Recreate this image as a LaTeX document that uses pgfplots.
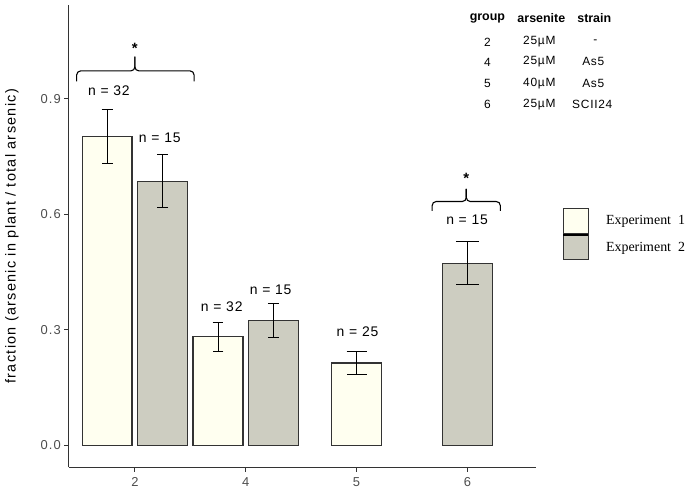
\documentclass[border=0pt]{standalone}
\usepackage{pgfplots}
\pgfplotsset{compat=1.18}
\usepackage{fontspec}
\setmainfont{Liberation Sans}
\newfontfamily\seriffont{Liberation Serif}
\newfontfamily\spacedfont{Liberation Sans}[LetterSpace=6]
\newfontfamily\widefont{Liberation Sans}[LetterSpace=9]
\definecolor{expA}{HTML}{FFFFF0}
\definecolor{expB}{HTML}{CDCDC1}
\definecolor{edge}{HTML}{333333}
\definecolor{ticklab}{HTML}{4D4D4D}
\newcommand{\annot}{\spacedfont\fontsize{14}{16}\selectfont}
\newcommand{\tabfont}{\spacedfont\fontsize{12}{14}\selectfont}
\begin{document}
\begin{tikzpicture}
\begin{axis}[
  scale only axis, width=468bp, height=463bp,
  xmin=-0.595, xmax=3.622, ymin=-0.057, ymax=1.143,
  axis lines=left, axis line style={-, edge, line width=1.1bp},
  xtick={0,1,2,3}, xticklabels={2,4,5,6},
  ytick={0,0.3,0.6,0.9}, yticklabels={0.0,0.3,0.6,0.9},
  tick align=outside, major tick length=4.5bp,
  every tick/.style={edge, line width=1.1bp},
  /pgf/number format/assume math mode=true,
  tick label style={font=\widefont\fontsize{13}{15}\selectfont, text=ticklab},
  xticklabel style={yshift=-2bp},
  every axis y label/.style={at={(axis description cs:-0.1218,0.5)}, rotate=90, anchor=center, font=\widefont\fontsize{14.5}{16}\selectfont},
  ylabel={fraction (arsenic in plant / total arsenic)},
  clip=false,
  legend image code/.code={\draw[#1, line width=1.2bp] (0bp,-12.5bp) rectangle (25bp,12.5bp);},
  legend style={at={(axis description cs:1.0556,0.5616)}, anchor=north west, draw=none, fill=none, inner sep=0pt, row sep=0pt, column sep=17bp,
    nodes={inner sep=0pt, font=\seriffont\fontsize{14}{16}\selectfont}},
  legend cell align=left,
]
\addlegendimage{fill=expA, draw=edge}
\addlegendimage{legend image code/.code={\draw[fill=expB, draw=edge, line width=1.2bp] (0bp,-12.5bp) rectangle (25bp,12.5bp); \draw[black, line width=1.6bp] (0bp,12.5bp) -- (25bp,12.5bp);}}
\legend{Experiment~~1, Experiment~~2}

% Experiment 1, groups 2 and 4
\addplot[ybar, bar width=0.45, bar shift=0pt, fill=expA, draw=edge, line width=1.2bp, forget plot,
  error bars/.cd, y dir=both, y explicit,
  error bar style={line width=1bp, black},
  error mark options={rotate=90, mark size=5.5bp, line width=1bp, black}]
  coordinates {(-0.25,0.802) +- (0,0.071) (0.75,0.282) +- (0,0.0375)};
% Experiment 2, groups 2 and 4
\addplot[ybar, bar width=0.45, bar shift=0pt, fill=expB, draw=edge, line width=1.2bp, forget plot,
  error bars/.cd, y dir=both, y explicit,
  error bar style={line width=1bp, black},
  error mark options={rotate=90, mark size=5.5bp, line width=1bp, black}]
  coordinates {(0.25,0.686) +- (0,0.068) (1.25,0.325) +- (0,0.044)};
% Experiment 1, group 5
\addplot[ybar, bar width=0.45, bar shift=0pt, fill=expA, draw=edge, line width=1.2bp, forget plot,
  error bars/.cd, y dir=both, y explicit,
  error bar style={line width=1bp, black},
  error mark options={rotate=90, mark size=10bp, line width=1bp, black}]
  coordinates {(2,0.214) +- (0,0.029)};
% Experiment 2, group 6
\addplot[ybar, bar width=0.45, bar shift=0pt, fill=expB, draw=edge, line width=1.2bp, forget plot,
  error bars/.cd, y dir=both, y explicit,
  error bar style={line width=1bp, black},
  error mark options={rotate=90, mark size=11.5bp, line width=1bp, black}]
  coordinates {(3,0.473) +- (0,0.056)};

% n labels
\node[font=\annot] at (axis cs:-0.234,0.920) {n = 32};
\node[font=\annot] at (axis cs:0.225,0.799) {n = 15};
\node[font=\annot] at (axis cs:0.784,0.361) {n = 32};
\node[font=\annot] at (axis cs:1.225,0.403) {n = 15};
\node[font=\annot] at (axis cs:2.009,0.294) {n = 25};
\node[font=\annot] at (axis cs:2.997,0.586) {n = 15};

% brackets
\draw[black, line width=1.1bp, rounded corners=4bp] (axis cs:-0.525,0.945) |- (axis cs:0,0.972) -- (axis cs:0,1.009);
\draw[black, line width=1.1bp, rounded corners=4bp] (axis cs:0.534,0.945) |- (axis cs:0,0.972) -- (axis cs:0,1.009);
\node[font=\bfseries\fontsize{15}{16}\selectfont, anchor=base] at (axis cs:0,1.017) {*};
\draw[black, line width=1.1bp, rounded corners=4bp] (axis cs:2.682,0.609) |- (axis cs:2.99,0.633) -- (axis cs:2.99,0.666);
\draw[black, line width=1.1bp, rounded corners=4bp] (axis cs:3.297,0.609) |- (axis cs:2.99,0.633) -- (axis cs:2.99,0.666);
\node[font=\bfseries\fontsize{15}{16}\selectfont, anchor=base] at (axis cs:2.99,0.680) {*};
\end{axis}

% table of conditions
\begin{scope}[every node/.style={anchor=center, inner sep=0pt}]
\node[font=\bfseries\fontsize{12.5}{14}\selectfont] at (419bp,450bp) {group};
\node[font=\bfseries\fontsize{12.5}{14}\selectfont] at (473bp,450bp) {arsenite};
\node[font=\bfseries\fontsize{12.5}{14}\selectfont] at (526bp,450bp) {strain};
\node[font=\tabfont] at (419bp,426bp) {2};
\node[font=\tabfont] at (471bp,426bp) {25µM};
\node[font=\tabfont] at (527bp,426bp) {-};
\node[font=\tabfont] at (419bp,406bp) {4};
\node[font=\tabfont] at (471bp,406bp) {25µM};
\node[font=\tabfont] at (525bp,406bp) {As5};
\node[font=\tabfont] at (419bp,384bp) {5};
\node[font=\tabfont] at (471bp,384bp) {40µM};
\node[font=\tabfont] at (525bp,384bp) {As5};
\node[font=\tabfont] at (419bp,363bp) {6};
\node[font=\tabfont] at (471bp,363bp) {25µM};
\node[font=\tabfont] at (524bp,363bp) {SCII24};
\end{scope}
\path[use as bounding box] (-69bp,-21bp) rectangle (616bp,468bp);
\end{tikzpicture}
\end{document}
